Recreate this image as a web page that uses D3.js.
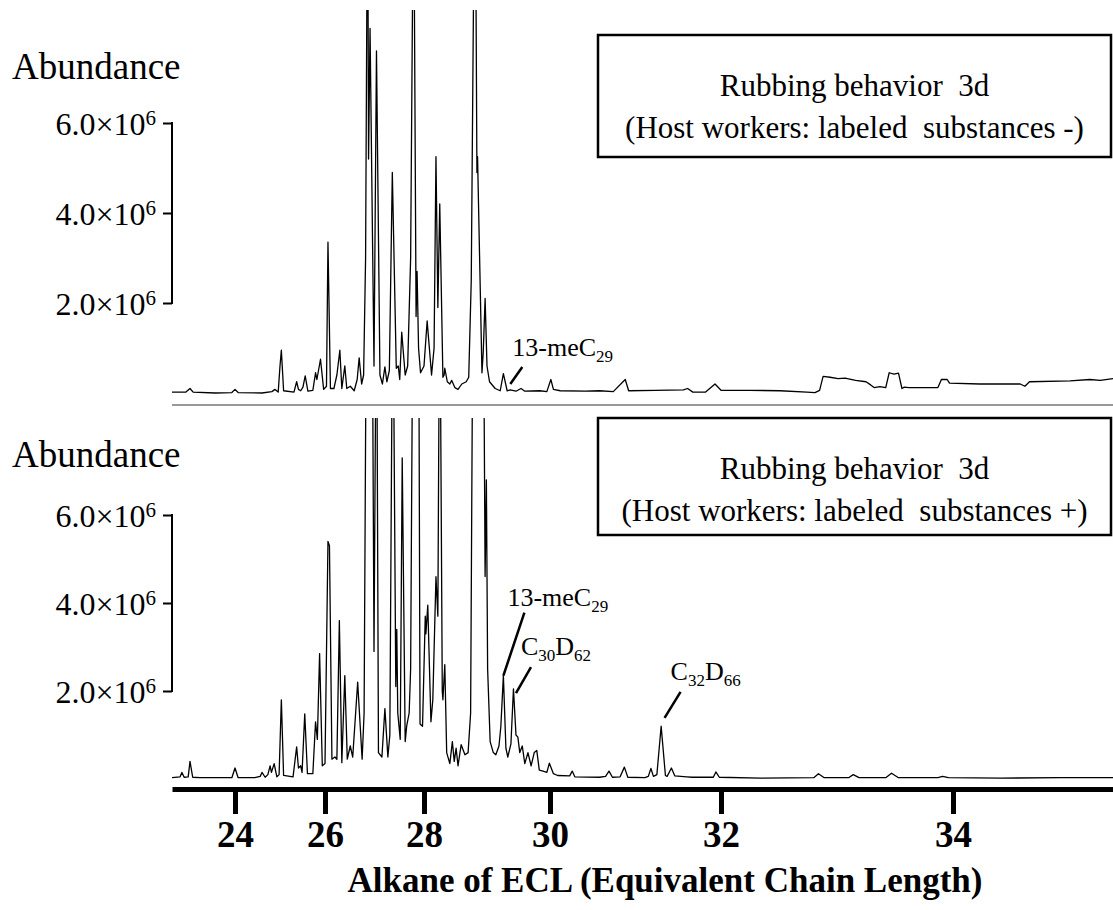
<!DOCTYPE html>
<html>
<head>
<meta charset="utf-8">
<script src="https://cdn.jsdelivr.net/npm/d3@7"></script>
<style>
  body { margin: 0; background: #fff; }
  text { font-family: "Liberation Serif", "Times New Roman", serif; fill: #000; white-space: pre; }
</style>
</head>
<body>
<div id="chart"></div>
<script>
// ---- data (ECL, abundance in units of 10^6) ----
var eclTicks = [24, 26, 28, 30, 32, 34];
var abundTicks = [2, 4, 6];

var panelTitles = [
  ["Rubbing behavior  3d", "(Host workers: labeled  substances -)"],
  ["Rubbing behavior  3d", "(Host workers: labeled  substances +)"]
];

// trace without labelled substances
var topTrace = [
  [22.6,0.02],[22.91,0.02],[23.0,0.10],[23.07,0.02],[23.56,0.0],[23.93,0.01],[24.0,0.08],[24.07,0.01],
  [24.6,0.0],[24.82,0.03],[24.89,0.08],[24.96,0.02],[25.0,0.6],[25.03,0.95],[25.08,0.05],[25.31,0.02],
  [25.37,0.25],[25.41,0.08],[25.46,0.05],[25.51,0.13],[25.56,0.38],[25.62,0.04],[25.73,0.06],[25.79,0.45],
  [25.82,0.3],[25.9,0.75],[25.97,0.08],[26.03,0.15],[26.06,3.35],[26.11,0.1],[26.18,0.1],[26.24,0.4],
  [26.30,0.95],[26.34,0.1],[26.40,0.6],[26.44,0.1],[26.51,0.15],[26.59,0.05],[26.65,0.3],[26.69,0.78],
  [26.74,0.2],[26.78,0.4],[26.82,3.0],[26.86,12],[26.88,5.2],[26.91,8.1],[26.99,0.6],[27.04,7.6],
  [27.11,0.4],[27.16,0.2],[27.21,0.58],[27.25,0.25],[27.30,0.5],[27.36,4.9],[27.44,0.55],[27.48,0.6],
  [27.51,0.3],[27.55,1.35],[27.62,0.4],[27.67,0.6],[27.73,3.0],[27.79,12],[27.84,1.7],[27.86,2.7],
  [27.89,1.0],[27.93,0.45],[28.0,0.6],[28.05,1.6],[28.12,0.4],[28.16,1.0],[28.19,5.25],[28.22,1.9],
  [28.25,4.2],[28.30,0.35],[28.32,0.4],[28.33,0.55],[28.37,0.25],[28.41,0.2],[28.44,0.28],[28.49,0.12],
  [28.54,0.08],[28.60,0.2],[28.67,0.25],[28.71,0.35],[28.75,2.5],[28.81,13],[28.84,4.9],[28.85,5.25],
  [28.92,0.45],[28.94,0.9],[28.97,2.1],[29.0,0.6],[29.04,0.25],[29.13,0.1],[29.21,0.05],[29.26,0.43],
  [29.32,0.05],[29.37,0.07],[29.46,0.04],[29.54,0.1],[29.60,0.04],[29.84,0.05],[29.95,0.03],[30.01,0.3],
  [30.04,0.08],[30.12,0.05],[30.41,0.04],[30.58,0.05],[30.74,0.03],[30.88,0.3],[30.92,0.05],[31.23,0.06],
  [31.56,0.07],[31.61,0.1],[31.67,0.02],[31.82,0.02],[31.93,0.2],[32.0,0.06],[32.25,0.06],[32.51,0.05],
  [32.74,0.02],[32.81,0.01],[32.85,0.06],[32.88,0.37],[32.94,0.35],[33.01,0.32],[33.07,0.33],[33.16,0.28],
  [33.25,0.25],[33.29,0.18],[33.32,0.12],[33.37,0.14],[33.42,0.12],[33.45,0.45],[33.49,0.42],[33.53,0.44],
  [33.56,0.1],[33.58,0.13],[33.62,0.12],[33.87,0.12],[33.90,0.3],[33.95,0.3],[33.97,0.22],[34.23,0.2],
  [34.58,0.2],[34.62,0.15],[34.66,0.25],[35.01,0.27],[35.18,0.3],[35.27,0.28],[35.38,0.32]
];

// trace with labelled substances
var bottomTrace = [
  [22.6,0.03],[22.78,0.05],[22.82,0.15],[22.87,0.04],[22.96,0.05],[23.0,0.4],[23.06,0.04],[23.22,0.03],
  [23.93,0.03],[24.0,0.25],[24.07,0.03],[24.44,0.03],[24.56,0.06],[24.6,0.15],[24.67,0.04],[24.73,0.1],
  [24.78,0.3],[24.81,0.15],[24.87,0.35],[24.93,0.05],[24.98,0.1],[25.03,1.8],[25.08,0.08],[25.29,0.05],
  [25.37,0.73],[25.41,0.25],[25.46,0.3],[25.49,0.15],[25.55,1.48],[25.61,0.12],[25.73,0.12],[25.79,1.3],
  [25.83,0.9],[25.88,2.85],[25.94,0.3],[26.0,0.35],[26.06,5.4],[26.09,5.3],[26.14,0.45],[26.20,0.5],
  [26.24,0.45],[26.29,3.6],[26.34,0.37],[26.40,2.35],[26.45,0.45],[26.51,0.75],[26.56,0.5],[26.66,2.2],
  [26.75,0.45],[26.79,1.5],[26.84,12],[26.95,12],[26.99,2.9],[27.04,12],[27.08,0.6],[27.15,0.5],
  [27.21,1.6],[27.27,0.5],[27.31,1.0],[27.37,12],[27.43,2.1],[27.45,3.4],[27.47,1.5],[27.52,0.9],
  [27.56,7.3],[27.62,0.85],[27.65,1.2],[27.70,1.5],[27.73,2.5],[27.78,12],[27.89,12],[27.92,1.25],
  [27.97,1.2],[28.02,3.7],[28.03,3.3],[28.06,3.95],[28.11,1.3],[28.14,1.8],[28.19,4.6],[28.22,3.7],
  [28.25,12],[28.29,2.0],[28.30,1.8],[28.33,2.6],[28.36,0.6],[28.41,0.35],[28.45,0.85],[28.48,0.4],
  [28.51,0.7],[28.54,0.3],[28.59,0.78],[28.65,0.55],[28.70,0.6],[28.74,1.5],[28.78,12],[28.94,12],
  [28.97,4.6],[28.99,6.8],[29.01,2.5],[29.05,0.85],[29.10,0.6],[29.14,0.55],[29.19,0.75],[29.22,1.2],
  [29.26,2.35],[29.30,0.7],[29.33,0.5],[29.38,0.8],[29.42,2.05],[29.46,1.0],[29.49,0.95],[29.52,0.6],
  [29.56,0.75],[29.60,0.35],[29.65,0.6],[29.70,0.3],[29.75,0.6],[29.79,0.65],[29.83,0.2],[29.89,0.18],
  [29.95,0.15],[29.99,0.36],[30.04,0.12],[30.09,0.08],[30.23,0.07],[30.26,0.18],[30.29,0.05],[30.58,0.04],
  [30.65,0.06],[30.69,0.18],[30.73,0.04],[30.82,0.05],[30.87,0.27],[30.91,0.04],[31.11,0.03],[31.15,0.06],
  [31.18,0.24],[31.21,0.06],[31.25,0.1],[31.30,1.2],[31.35,0.08],[31.37,0.06],[31.42,0.25],[31.46,0.07],
  [31.60,0.05],[31.66,0.04],[31.91,0.04],[31.94,0.16],[31.98,0.04],[32.34,0.02],[32.80,0.03],[32.84,0.12],
  [32.89,0.03],[33.10,0.03],[33.14,0.1],[33.19,0.03],[33.42,0.03],[33.47,0.13],[33.53,0.03],[33.87,0.03],
  [33.91,0.06],[33.96,0.03],[34.41,0.02],[34.92,0.03],[35.38,0.03]
];

// peak labels: text parts (odd entries are subscripts) and the point the leader touches
var topLabels = [["13-meC", "29"]];
var topLabelAt = [[29.37, 0.2]];
var bottomLabels = [["13-meC", "29"], ["C", "30", "D", "62"], ["C", "32", "D", "66"]];
var bottomLabelAt = [[29.26, 2.35], [29.46, 1.95], [31.34, 1.39]];

// ---- drawing ----
var width = 1113, height = 910;

var svg = d3.select("#chart").append("svg")
    .attr("width", width)
    .attr("height", height);

// ECL axis is not linear in retention time, so use a piecewise scale
var x = d3.scaleLinear()
    .domain([22.6, 24, 26, 28, 30, 32, 34, 35.38])
    .range([172, 235, 325, 424, 550, 721, 953, 1113]);

var panels = [
  { trace: topTrace, y: d3.scaleLinear().domain([0, 6]).range([393, 123]),
    clipTop: 10, clipBottom: 402, labels: topLabels, labelAt: topLabelAt,
    titleY: 79, box: [598, 35, 513, 122], boxLines: [96, 138],
    offsets: [{lx: 12, ly: -17, tx: 2, ty: -28}] },
  { trace: bottomTrace, y: d3.scaleLinear().domain([0, 6]).range([779, 515]),
    clipTop: 418, clipBottom: 785, labels: bottomLabels, labelAt: bottomLabelAt,
    titleY: 467, box: [598, 418, 513, 117], boxLines: [479, 521],
    offsets: [{lx: 21, ly: -63, tx: 4, ty: -70},
              {lx: 15, ly: -26, tx: 5, ty: -38},
              {lx: 16, ly: -26, tx: 6, ty: -38}] }
];

panels.forEach(function(p, i) {
  var y = p.y;

  svg.append("clipPath").attr("id", "clip" + i)
    .append("rect")
    .attr("x", 172).attr("y", p.clipTop)
    .attr("width", width - 172).attr("height", p.clipBottom - p.clipTop);

  var line = d3.line()
    .x(function(d) { return x(d[0]); })
    .y(function(d) { return y(d[1]); });

  svg.append("path")
    .datum(p.trace)
    .attr("clip-path", "url(#clip" + i + ")")
    .attr("fill", "none")
    .attr("stroke", "#000")
    .attr("stroke-width", 1.3)
    .attr("stroke-linejoin", "round")
    .attr("d", line);

  // y axis: short bracket from 2 to 6 x10^6
  var yAxis = svg.append("g")
    .attr("transform", "translate(172,0)")
    .call(d3.axisLeft(y).tickValues(abundTicks).tickSize(9).tickPadding(7));
  yAxis.select(".domain").remove();
  yAxis.selectAll(".tick line").attr("stroke-width", 2);
  yAxis.append("line")
    .attr("x1", 0).attr("x2", 0)
    .attr("y1", y(6) - 1).attr("y2", y(2) + 1)
    .attr("stroke", "#000").attr("stroke-width", 2);
  yAxis.selectAll(".tick text")
    .attr("font-family", null)
    .style("font-size", "32px")
    .attr("dy", "0.35em")
    .each(function(d) {
      var t = d3.select(this).text(null);
      t.append("tspan").text(d.toFixed(1) + "\u00d710");
      t.append("tspan").attr("dy", "-0.45em").style("font-size", "21px").text("6");
    });

  svg.append("text")
    .attr("x", 12).attr("y", p.titleY)
    .style("font-size", "37px")
    .text("Abundance");

  // legend box
  svg.append("rect")
    .attr("x", p.box[0]).attr("y", p.box[1])
    .attr("width", p.box[2]).attr("height", p.box[3])
    .attr("fill", "none").attr("stroke", "#000").attr("stroke-width", 2.5);
  panelTitles[i].forEach(function(s, k) {
    svg.append("text")
      .attr("x", p.box[0] + p.box[2] / 2).attr("y", p.boxLines[k])
      .attr("text-anchor", "middle")
      .style("font-size", "31px")
      .text(s);
  });

  // peak labels
  p.labels.forEach(function(parts, k) {
    var ax = x(p.labelAt[k][0]), ay = y(p.labelAt[k][1]), o = p.offsets[k];
    svg.append("line")
      .attr("x1", ax).attr("y1", ay)
      .attr("x2", ax + o.lx).attr("y2", ay + o.ly)
      .attr("stroke", "#000").attr("stroke-width", 2.5);
    var t = svg.append("text")
      .attr("x", ax + o.tx).attr("y", ay + o.ty)
      .style("font-size", "26px");
    parts.forEach(function(s, j) {
      var sub = j % 2 === 1;
      t.append("tspan")
        .attr("dy", sub ? 6 : (j > 0 ? -6 : 0))
        .style("font-size", sub ? "17px" : "26px")
        .text(s);
    });
  });
});

// thin separator under the upper trace
svg.append("line")
  .attr("x1", x(22.6)).attr("x2", x(35.38))
  .attr("y1", 405).attr("y2", 405)
  .attr("stroke", "#777").attr("stroke-width", 1.5);

// ECL axis
var xAxis = svg.append("g")
  .attr("transform", "translate(0,789)")
  .call(d3.axisBottom(x).tickValues(eclTicks).tickSize(25).tickSizeOuter(0));
xAxis.select(".domain").attr("stroke-width", 5);
xAxis.selectAll(".tick line").attr("stroke-width", 5);
xAxis.selectAll(".tick text")
  .attr("font-family", null)
  .attr("y", 58).attr("dy", 0)
  .style("font-size", "37px")
  .style("font-weight", "bold");

svg.append("text")
  .attr("x", 665).attr("y", 892)
  .attr("text-anchor", "middle")
  .style("font-size", "35px")
  .style("font-weight", "bold")
  .text("Alkane of ECL (Equivalent Chain Length)");
</script>
</body>
</html>
